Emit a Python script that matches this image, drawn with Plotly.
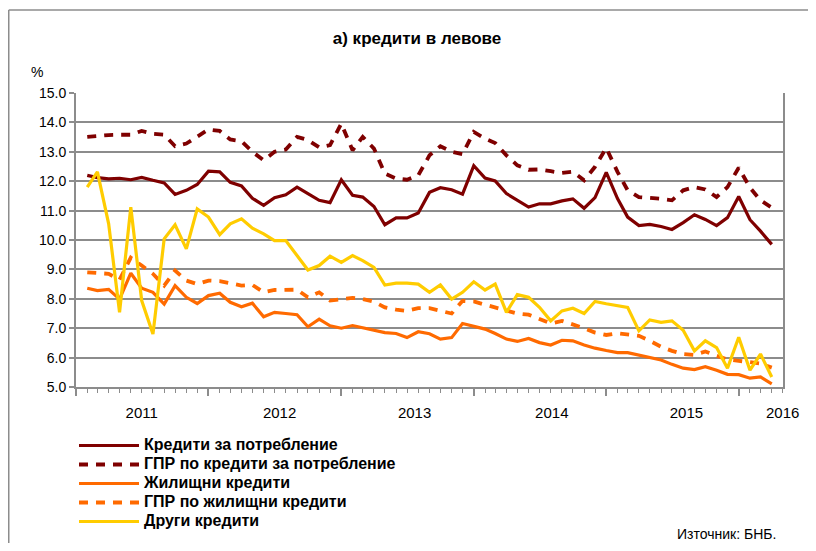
import pandas as pd
import plotly.graph_objects as go

# Monthly observations (Feb 2011 .. Apr 2016)
months = pd.date_range("2011-02-01", periods=63, freq="MS")

consumer = [12.20, 12.12, 12.08, 12.10, 12.05, 12.13, 12.03, 11.94, 11.55, 11.69, 11.89, 12.34,
            12.32, 11.96, 11.84, 11.42, 11.18, 11.44, 11.54, 11.80, 11.58, 11.35, 11.27, 12.05,
            11.52, 11.46, 11.14, 10.52, 10.75, 10.75, 10.92, 11.62, 11.78, 11.71, 11.56, 12.53,
            12.11, 12.01, 11.58, 11.35, 11.12, 11.23, 11.23, 11.33, 11.40, 11.08, 11.44, 12.30,
            11.41, 10.78, 10.49, 10.53, 10.46, 10.36, 10.59, 10.86, 10.70, 10.49, 10.76, 11.48,
            10.69, 10.30, 9.85]

consumer_apr = [13.51, 13.55, 13.57, 13.58, 13.58, 13.71, 13.61, 13.58, 13.19, 13.28, 13.53, 13.76,
                13.71, 13.42, 13.36, 13.00, 12.71, 13.00, 13.08, 13.51, 13.40, 13.15, 13.23, 13.96,
                13.05, 13.51, 13.11, 12.26, 12.09, 12.05, 12.20, 12.88, 13.19, 13.00, 12.92, 13.68,
                13.45, 13.30, 12.88, 12.54, 12.39, 12.40, 12.34, 12.28, 12.32, 12.03, 12.49, 13.13,
                12.32, 11.69, 11.46, 11.44, 11.40, 11.35, 11.69, 11.80, 11.72, 11.46, 11.80, 12.46,
                11.78, 11.35, 11.10]

housing = [8.36, 8.28, 8.32, 7.99, 8.87, 8.36, 8.22, 7.82, 8.45, 8.05, 7.84, 8.11,
           8.19, 7.88, 7.73, 7.85, 7.39, 7.54, 7.50, 7.46, 7.05, 7.31, 7.08, 7.00,
           7.09, 7.02, 6.93, 6.85, 6.82, 6.68, 6.88, 6.81, 6.63, 6.68, 7.16, 7.07,
           6.97, 6.82, 6.63, 6.55, 6.65, 6.51, 6.43, 6.59, 6.57, 6.43, 6.32, 6.24,
           6.17, 6.17, 6.08, 6.00, 5.92, 5.77, 5.64, 5.59, 5.69, 5.57, 5.43, 5.42,
           5.30, 5.34, 5.11]

housing_apr = [8.90, 8.87, 8.85, 8.65, 9.40, 9.13, 8.85, 8.45, 8.96, 8.62, 8.50, 8.62,
               8.60, 8.53, 8.45, 8.47, 8.22, 8.30, 8.32, 8.31, 8.05, 8.22, 7.94, 7.99,
               8.03, 7.99, 7.90, 7.71, 7.63, 7.59, 7.68, 7.68, 7.59, 7.50, 7.93, 7.91,
               7.80, 7.71, 7.59, 7.50, 7.46, 7.31, 7.16, 7.25, 7.14, 7.00, 6.85, 6.77,
               6.83, 6.80, 6.74, 6.57, 6.37, 6.23, 6.12, 6.09, 6.21, 6.06, 5.94, 5.89,
               5.86, 5.80, 5.66]

other = [11.80, 12.32, 10.55, 7.54, 11.12, 7.94, 6.80, 10.04, 10.52, 9.70, 11.06, 10.78,
         10.18, 10.55, 10.72, 10.40, 10.21, 9.98, 9.98, 9.47, 8.98, 9.13, 9.45, 9.24,
         9.47, 9.30, 9.07, 8.47, 8.53, 8.53, 8.50, 8.22, 8.47, 7.99, 8.22, 8.58,
         8.30, 8.50, 7.54, 8.14, 8.05, 7.71, 7.25, 7.59, 7.68, 7.50, 7.91, 7.83,
         7.76, 7.71, 6.91, 7.28, 7.20, 7.25, 6.93, 6.23, 6.57, 6.34, 5.64, 6.69,
         5.57, 6.12, 5.34]

series_names = ["Кредити за потребление", "ГПР по кредити за потребление",
                "Жилищни кредити", "ГПР по жилищни кредити", "Други кредити"]

year_boundaries = pd.date_range("2011-01-01", periods=6, freq="YS")
year_label_dates = ["2011-07-01", "2012-07-15", "2013-07-22", "2014-08-04", "2015-08-10", "2016-05-01"]
year_labels = ["2011", "2012", "2013", "2014", "2015", "2016"]

y_ticks = [5, 6, 7, 8, 9, 10, 11, 12, 13, 14, 15]

MAROON = "#7F0000"
ORANGE = "#FF6A00"
YELLOW = "#FFCC00"
GRID = "#8C8C8C"
FONT = "Liberation Sans, Arial, sans-serif"

# figure is placed by the page with an 8px body margin; keep it inside the window
W, H = 800, 535
L, R, T, B = 68, 25, 85, 156
PW, PH = W - L - R, H - T - B


def px(x):
    return (x - L) / PW


def py(y):
    return (H - B - y) / PH


fig = go.Figure()
styles = [
    (consumer, MAROON, "solid", 3.2),
    (consumer_apr, MAROON, "9px,8px", 3.8),
    (housing, ORANGE, "solid", 3.2),
    (housing_apr, ORANGE, "9px,8px", 3.8),
    (other, YELLOW, "solid", 3.2),
]
for name, (vals, col, dash, w) in zip(series_names, styles):
    fig.add_trace(go.Scatter(x=months, y=vals, mode="lines",
                             name=f"<span style='font-size:16px'>{name}</span>",
                             line=dict(color=col, dash=dash, width=w)))

x_range = ["2011-01-01", "2016-05-02"]

fig.update_layout(
    width=W, height=H,
    margin=dict(l=L, r=R, t=T, b=B, autoexpand=False),
    paper_bgcolor="white", plot_bgcolor="white",
    font=dict(family=FONT, size=14, color="black"),
    showlegend=True,
    legend=dict(x=px(66), y=py(423), xanchor="left", yanchor="top",
                font=dict(family=FONT, size=12, color="black", weight="bold"),
                tracegroupgap=0, itemwidth=60, bgcolor="rgba(0,0,0,0)"),
    xaxis=dict(range=x_range, type="date", tickvals=list(year_boundaries),
               ticktext=[""] * len(year_boundaries), ticks="outside", ticklen=7,
               tickcolor=GRID, tickwidth=1.5, showgrid=False, showline=True,
               linecolor=GRID, linewidth=2, zeroline=False,
               minor=dict(dtick="M1", tick0="2011-01-01", ticks="outside",
                          ticklen=4, tickcolor=GRID, tickwidth=1.2, showgrid=False)),
    xaxis2=dict(range=x_range, type="date", overlaying="x", anchor="y", side="bottom",
                tickvals=year_label_dates, ticktext=year_labels,
                ticks="outside", ticklen=12, tickcolor="rgba(0,0,0,0)",
                showgrid=False, showline=False, zeroline=False,
                tickfont=dict(family=FONT, size=15, color="black")),
    yaxis=dict(range=[5, 15], tickvals=y_ticks, tickformat=".1f",
               ticks="outside", ticklen=5, tickcolor=GRID, tickwidth=1.5,
               showgrid=True, gridcolor=GRID, gridwidth=1.8,
               showline=True, linecolor=GRID, linewidth=2, mirror=True,
               zeroline=False, tickfont=dict(family=FONT, size=14, color="black")),
    title=dict(text="<b>а) кредити в левове</b>", x=409 / W, xanchor="center",
               y=1 - 30 / H, yanchor="middle",
               font=dict(family=FONT, size=17, color="black")),
)

# invisible anchor trace for the year-label axis
fig.add_trace(go.Scatter(x=[months[0]], y=[None], xaxis="x2", showlegend=False,
                         hoverinfo="skip", mode="lines"))

fig.add_annotation(text="%", xref="paper", yref="paper", x=px(29), y=py(64),
                   showarrow=False, xanchor="center", yanchor="middle",
                   font=dict(family=FONT, size=14, color="black"))
fig.add_annotation(text="Източник: БНБ.", xref="paper", yref="paper", x=px(770), y=py(526),
                   showarrow=False, xanchor="right", yanchor="middle",
                   font=dict(family=FONT, size=14, color="black"))

# outer chart frame (top and left edges), kept inside the figure
fig.add_shape(type="line", xref="paper", yref="paper", x0=px(0.75), x1=px(W),
              y0=py(2), y1=py(2), line=dict(color="#8C8C8C", width=1.5))
fig.add_shape(type="line", xref="paper", yref="paper", x0=px(0.75), x1=px(0.75),
              y0=py(2), y1=py(H), line=dict(color="#8C8C8C", width=1.5))

fig.write_html("out.html", config={"displayModeBar": False})
